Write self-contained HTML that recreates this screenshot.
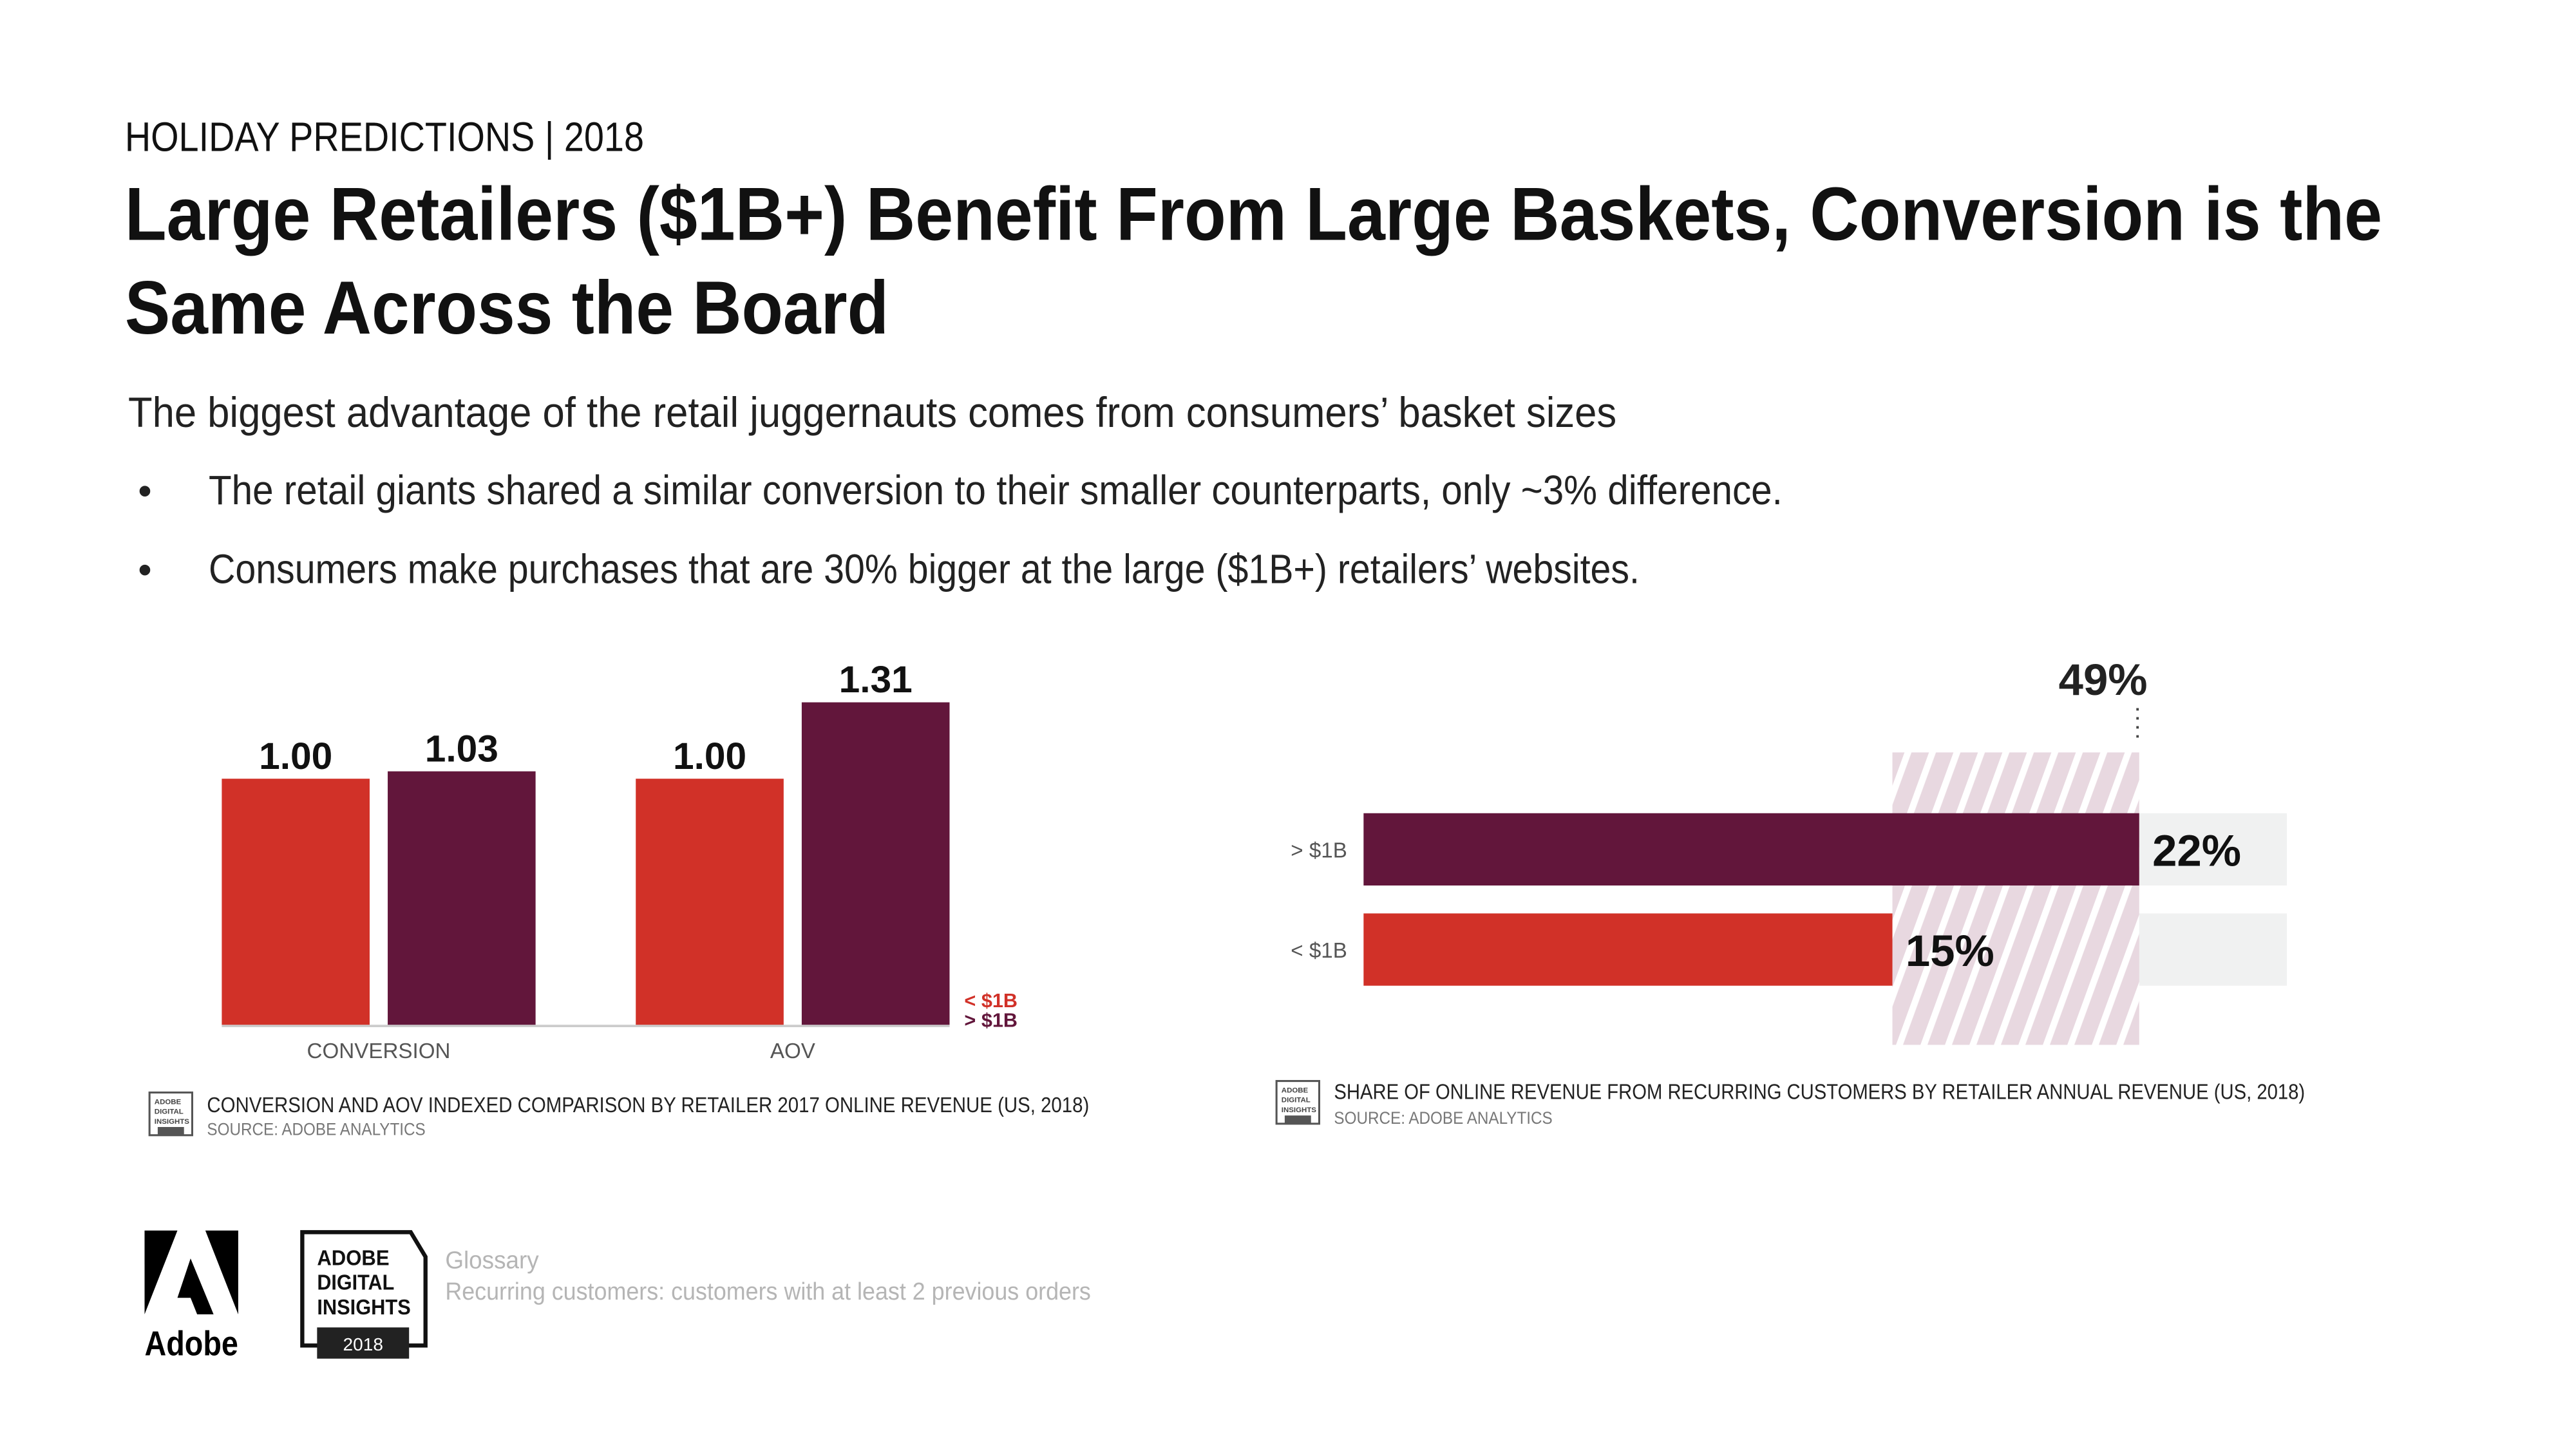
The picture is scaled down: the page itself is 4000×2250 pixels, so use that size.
<!DOCTYPE html>
<html><head><meta charset="utf-8"><style>
html,body{margin:0;padding:0;background:#fff;width:4000px;height:2250px;overflow:hidden}
svg{display:block}
text{font-family:"Liberation Sans",sans-serif}
</style></head><body>
<svg id="root" width="4000" height="2250" viewBox="0 0 1568 882" preserveAspectRatio="none" xmlns="http://www.w3.org/2000/svg">
<defs>
<pattern id="hatch" patternUnits="userSpaceOnUse" width="14" height="14" patternTransform="rotate(20)">
<rect width="14" height="14" fill="#e8d8e0"/><rect width="4" height="14" fill="#fff"/>
</pattern>
</defs>
<text x="76" y="92" font-size="25" fill="#111" textLength="316" lengthAdjust="spacingAndGlyphs">HOLIDAY PREDICTIONS | 2018</text>
<text x="76" y="146" font-size="46" font-weight="bold" fill="#111" textLength="1374" lengthAdjust="spacingAndGlyphs">Large Retailers ($1B+) Benefit From Large Baskets, Conversion is the</text>
<text x="76" y="203" font-size="46" font-weight="bold" fill="#111" textLength="465" lengthAdjust="spacingAndGlyphs">Same Across the Board</text>
<text x="78" y="260" font-size="26" fill="#222" textLength="906" lengthAdjust="spacingAndGlyphs">The biggest advantage of the retail juggernauts comes from consumers’ basket sizes</text>
<text x="84" y="307" font-size="24" fill="#222">•</text>
<text x="127" y="307" font-size="25" fill="#222" textLength="958" lengthAdjust="spacingAndGlyphs">The retail giants shared a similar conversion to their smaller counterparts, only ~3% difference.</text>
<text x="84" y="355" font-size="24" fill="#222">•</text>
<text x="127" y="355" font-size="25" fill="#222" textLength="871" lengthAdjust="spacingAndGlyphs">Consumers make purchases that are 30% bigger at the large ($1B+) retailers’ websites.</text>

<g id="left-chart"></g>
<g id="right-chart"></g>

<g>
<rect x="91" y="665" width="26" height="26" fill="#fff" stroke="#555" stroke-width="1.2"/>
<text x="94" y="672" font-size="4.5" font-weight="bold" fill="#444">ADOBE</text>
<text x="94" y="678" font-size="4.5" font-weight="bold" fill="#444">DIGITAL</text>
<text x="94" y="684" font-size="4.5" font-weight="bold" fill="#444">INSIGHTS</text>
<rect x="96" y="686" width="16" height="5" fill="#555"/>
<text x="126" y="677" font-size="13" fill="#222" textLength="537" lengthAdjust="spacingAndGlyphs">CONVERSION AND AOV INDEXED COMPARISON BY RETAILER 2017 ONLINE REVENUE (US, 2018)</text>
<text x="126" y="691" font-size="10.5" fill="#777" textLength="133" lengthAdjust="spacingAndGlyphs">SOURCE: ADOBE ANALYTICS</text>
</g>
<g>
<rect x="777" y="658" width="26" height="26" fill="#fff" stroke="#555" stroke-width="1.2"/>
<text x="780" y="665" font-size="4.5" font-weight="bold" fill="#444">ADOBE</text>
<text x="780" y="671" font-size="4.5" font-weight="bold" fill="#444">DIGITAL</text>
<text x="780" y="677" font-size="4.5" font-weight="bold" fill="#444">INSIGHTS</text>
<rect x="782" y="679" width="16" height="5" fill="#555"/>
<text x="812" y="669" font-size="13" fill="#222" textLength="591" lengthAdjust="spacingAndGlyphs">SHARE OF ONLINE REVENUE FROM RECURRING CUSTOMERS BY RETAILER ANNUAL REVENUE (US, 2018)</text>
<text x="812" y="684" font-size="10.5" fill="#777" textLength="133" lengthAdjust="spacingAndGlyphs">SOURCE: ADOBE ANALYTICS</text>
</g>

<g>
<polygon points="88,749 108,749 88,800" fill="#000"/>
<polygon points="125,749 145,749 145,800" fill="#000"/>
<polygon points="116,766 130,800 120,800 116,790 108,790" fill="#000"/>
<text x="88" y="825" font-size="21" font-weight="bold" fill="#000" textLength="57" lengthAdjust="spacingAndGlyphs">Adobe</text>
</g>
<g>
<polygon points="184,750 250,750 259,765 259,819 184,819" fill="#fff" stroke="#111" stroke-width="2.5"/>
<rect x="193" y="808" width="56" height="19" fill="#222"/>
<text x="221" y="822" font-size="11" fill="#fff" text-anchor="middle">2018</text>
<text x="193" y="770" font-size="13" font-weight="bold" fill="#111" textLength="44" lengthAdjust="spacingAndGlyphs">ADOBE</text>
<text x="193" y="785" font-size="13" font-weight="bold" fill="#111" textLength="47" lengthAdjust="spacingAndGlyphs">DIGITAL</text>
<text x="193" y="800" font-size="13" font-weight="bold" fill="#111" textLength="57" lengthAdjust="spacingAndGlyphs">INSIGHTS</text>
</g>
<text x="271" y="772" font-size="15" fill="#b5b5b5" textLength="57" lengthAdjust="spacingAndGlyphs">Glossary</text>
<text x="271" y="791" font-size="15" fill="#b5b5b5" textLength="393" lengthAdjust="spacingAndGlyphs">Recurring customers: customers with at least 2 previous orders</text>
</svg>
<script>
const NS='http://www.w3.org/2000/svg';
// left chart data
const leftCategories=['CONVERSION','AOV'];
const smallRetailerIndex=[1.00,1.00];
const largeRetailerIndex=[1.03,1.31];
const leftLabelsSmall=['1.00','1.00'];
const leftLabelsLarge=['1.03','1.31'];
// right chart data
const rightCategories=['> $1B','< $1B'];
const recurringShare=[22,15];
const recurringLabels=['22%','15%'];
const highlightLabel='49%';

const RED='#d13128',PURPLE='#62163b';
function mk(tag,attrs,parent,txt){const e=document.createElementNS(NS,tag);for(const k in attrs)e.setAttribute(k,attrs[k]);if(txt!==undefined)e.textContent=txt;parent.appendChild(e);return e;}

const L=document.getElementById('left-chart');
const base=624, perUnit=150;
const yL=v=>base-v*perUnit;
const groupX=[135,387], barW=90, gap=11;
for(let i=0;i<leftCategories.length;i++){
  const x0=groupX[i];
  const b1=mk('rect',{x:x0,y:yL(smallRetailerIndex[i]),width:barW,height:base-yL(smallRetailerIndex[i]),fill:RED},L);
  
  
  const b2=mk('rect',{x:x0+barW+gap,y:yL(largeRetailerIndex[i]),width:barW,height:base-yL(largeRetailerIndex[i]),fill:PURPLE},L);
  
  
  const t1=mk('text',{x:x0+barW/2,y:yL(smallRetailerIndex[i])-6,'font-size':23,'font-weight':'bold','text-anchor':'middle',fill:'#111'},L,leftLabelsSmall[i]);
  
  
  const t2=mk('text',{x:x0+barW*1.5+gap,y:yL(largeRetailerIndex[i])-6,'font-size':23,'font-weight':'bold','text-anchor':'middle',fill:'#111'},L,leftLabelsLarge[i]);
  
  
  const c=mk('text',{x:x0+barW+gap/2,y:644,'font-size':13,'text-anchor':'middle',fill:'#555'},L,leftCategories[i]);
  
  
}
const ax=mk('line',{x1:135,x2:578,y1:base+0.5,y2:base+0.5,stroke:'#ccc','stroke-width':1.5},L);


const lg1=mk('text',{x:587,y:613,'font-size':12,'font-weight':'bold',fill:RED},L,'< $1B');


const lg2=mk('text',{x:587,y:625,'font-size':12,'font-weight':'bold',fill:PURPLE},L,'> $1B');



const R=document.getElementById('right-chart');
const x0=830, perPct=21.46;
const xR=v=>x0+v*perPct;
const rowY=[495,556], rowH=44, trackEnd=1392;
const hiX=xR(Math.min(...recurringShare)), hiX2=xR(Math.max(...recurringShare));
for(let i=0;i<rightCategories.length;i++){
  const tr=mk('rect',{x:x0,y:rowY[i],width:trackEnd-x0,height:rowH,fill:'#f0f1f1'},R);
  
  
}
const hb=mk('rect',{x:hiX,y:458,width:hiX2-hiX,height:178,fill:'url(#hatch)'},R);


for(let i=0;i<rightCategories.length;i++){
  const b=mk('rect',{x:x0,y:rowY[i],width:xR(recurringShare[i])-x0,height:rowH,fill:i===0?PURPLE:RED},R);
  
  
  const lab=mk('text',{x:820,y:rowY[i]+rowH/2+5,'font-size':13,'text-anchor':'end',fill:'#555'},R,rightCategories[i]);
  
  
  const v=mk('text',{x:xR(recurringShare[i])+8,y:rowY[i]+rowH/2+10,'font-size':27,'font-weight':'bold',fill:'#111'},R,recurringLabels[i]);
  
  
}
const dl=mk('line',{x1:hiX2-1,x2:hiX2-1,y1:431,y2:452,stroke:'#444','stroke-width':1.5,'stroke-dasharray':'1.5,4'},R);


const hl=mk('text',{x:hiX2+5,y:423,'font-size':27,'font-weight':'bold','text-anchor':'end',fill:'#222'},R,highlightLabel);


</script>
</body></html>
